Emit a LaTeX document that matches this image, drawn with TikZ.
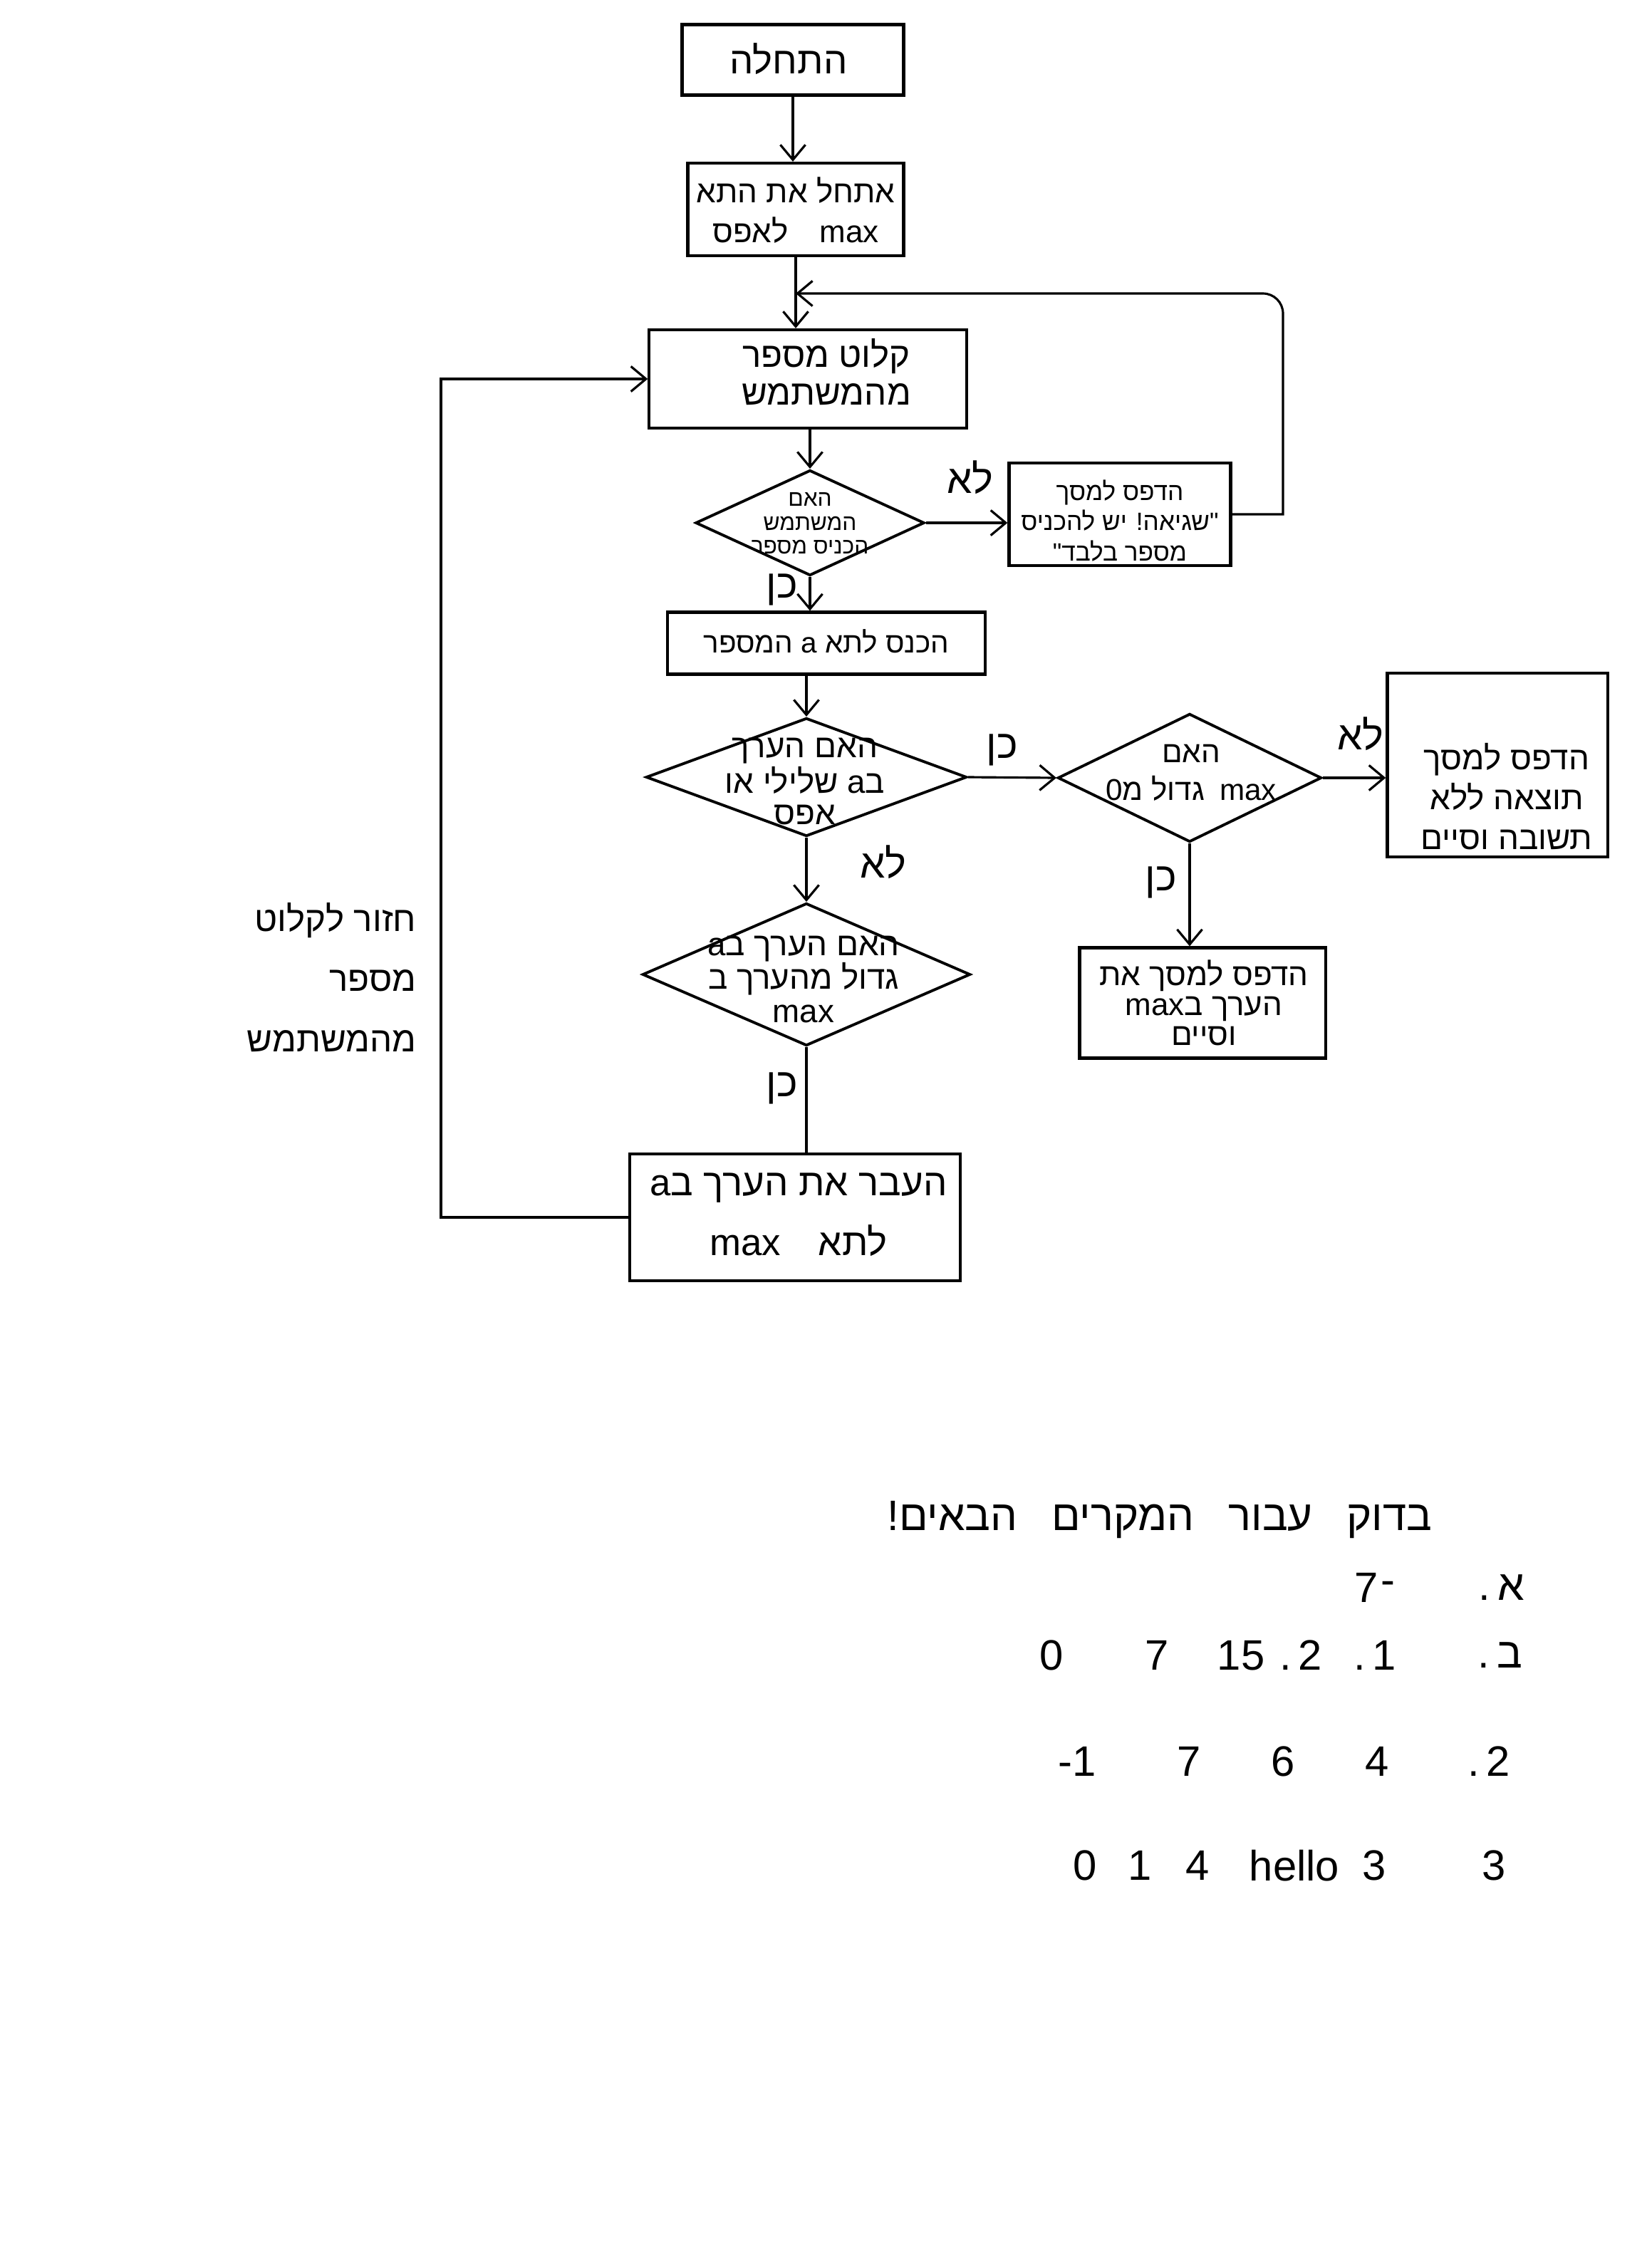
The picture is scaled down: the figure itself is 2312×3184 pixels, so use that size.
\documentclass[tikz,border=0pt]{standalone}
\usepackage{fontspec}
\setmainfont{Liberation Sans}
\newfontfamily\hebfont[Script=Hebrew]{Liberation Sans}
\TeXXeTstate=1
\usetikzlibrary{shapes.geometric,arrows.meta}
% right-to-left line, left-to-right run inside it, and a run splitter
\newcommand{\rtl}[1]{\beginR #1\endR}
\newcommand{\ltr}[1]{\beginL #1\endL{}}
\newcommand{\sep}{\kern0pt\relax}
\newcommand{\fs}[2]{\fontsize{#1}{#2}\selectfont}

\begin{document}
\begin{tikzpicture}[x=0.01cm,y=-0.01cm,
  box/.style={draw, line width=1.2pt, rectangle, inner sep=0pt},
  decision/.style={draw, line width=1.1pt, diamond, inner sep=0pt},
  txt/.style={align=center, inner sep=0pt},
  flow/.style={line width=0.9pt, -{Straight Barb[length=6pt,width=10pt,line width=0.9pt]}},
  link/.style={line width=0.9pt},
  answer/.style={font=\hebfont\fs{16}{18}, inner sep=0pt},
  testnum/.style={font=\fs{17}{19}, inner sep=0pt},
  testhead/.style={font=\hebfont\fs{17}{19}, inner sep=0pt}]

\fill[white] (0,0) rectangle (2312,3184);
\useasboundingbox (0,0) rectangle (2312,3184);

% ---- shapes ----
\node[box, minimum width=3.11cm, minimum height=0.99cm] (n1) at (1113,84) {};
\node[box, minimum width=3.03cm, minimum height=1.30cm] (n2) at (1117,294) {};
\node[box, minimum width=4.45cm, minimum height=1.38cm] (n3) at (1134,532) {};
\node[decision, minimum width=3.21cm, minimum height=1.48cm] (d1) at (1137,734) {};
\node[box, minimum width=3.11cm, minimum height=1.44cm] (err) at (1572,722) {};
\node[box, minimum width=4.45cm, minimum height=0.87cm] (n4) at (1160,903) {};
\node[decision, minimum width=4.50cm, minimum height=1.66cm] (d2) at (1132,1091) {};
\node[decision, minimum width=3.70cm, minimum height=1.80cm] (d3) at (1670,1092) {};
\node[box, minimum width=3.09cm, minimum height=2.58cm] (nores) at (2102,1074) {};
\node[box, minimum width=3.45cm, minimum height=1.55cm] (pmax) at (1688,1408) {};
\node[decision, minimum width=4.60cm, minimum height=2.00cm] (d4) at (1132,1368) {};
\node[box, minimum width=4.63cm, minimum height=1.78cm] (n5) at (1116,1709) {};

% ---- texts in the shapes ----
\node[txt, font=\hebfont\fs{15}{17}] (t1) at (1107,83) {\rtl{התחלה}};
\node[txt, font=\hebfont\fs{12.5}{16}] (t2) at (1117,295)
  {\rtl{אתחל את התא}\\\rtl{\ltr{max}\quad לאפס}};
\node[txt, font=\hebfont\fs{14}{15}] (t3) at (1160,522)
  {\rtl{קלוט מספר}\\\rtl{מהמשתמש}};
\node[txt, font=\hebfont\fs{9}{9.5}] (td1) at (1137,735)
  {\rtl{האם}\\\rtl{המשתמש}\\\rtl{הכניס מספר}};
\node[txt, font=\hebfont\fs{10}{12}] (terr) at (1572,731)
  {\rtl{הדפס למסך}\\\rtl{"\sep שגיאה\sep! יש להכניס}\\\rtl{מספר בלבד\sep"}};
\node[txt, font=\hebfont\fs{11.5}{14}] (t4) at (1160,900)
  {\rtl{הכנס לתא \ltr{a} המספר}};
\node[txt, font=\hebfont\fs{13}{12.5}] (td2) at (1130,1097)
  {\rtl{האם הערך}\\\rtl{ב\ltr{a} שלילי או}\\\rtl{אפס}};
\node[txt, font=\hebfont\fs{12}{15}] (td3) at (1672,1085)
  {\rtl{האם}\\\rtl{\ltr{max}\enspace גדול מ\sep0}};
\node[txt, font=\hebfont\fs{13}{16}] (tnores) at (2115,1118)
  {\rtl{הדפס למסך}\\\rtl{תוצאה ללא}\\\rtl{תשובה וסיים}};
\node[txt, font=\hebfont\fs{12.5}{12}] (tpmax) at (1690,1408)
  {\rtl{הדפס למסך את}\\\rtl{הערך ב\ltr{max}}\\\rtl{וסיים}};
\node[txt, font=\hebfont\fs{13}{13.5}] (td4) at (1128,1375)
  {\rtl{האם הערך ב\ltr{a}}\\\rtl{גדול מהערך ב}\\\ltr{max}};
\node[txt, font=\hebfont\fs{15}{24}] (t5) at (1121,1705)
  {\rtl{העבר את הערך ב\ltr{a}}\\\rtl{לתא\quad\ltr{max}}};

% ---- note beside the return line ----
\node[align=right, inner sep=0pt, anchor=east, font=\hebfont\fs{14}{24}] (back) at (585,1372)
  {\rtl{חזור לקלוט}\\\rtl{מספר}\\\rtl{מהמשתמש}};

% ---- connectors ----
\coordinate (looptop) at (1801,412);
\coordinate (loopjoin) at (1117,412);
\coordinate (backcol) at (619,0);

\draw[flow] (n1.south) -- (n1.south |- n2.north);
\draw[flow] (n2.south) -- (n2.south |- n3.north);
\draw[flow] (n3.south -| d1.north) -- (d1.north);
\draw[flow] (d1.south) -- (d1.south |- n4.north);
\draw[flow] (d1.east) -- (d1.east -| err.west);
\draw[flow] (err.east) -- (err.east -| looptop) [rounded corners=8pt] -- (looptop) -- (loopjoin);
\draw[flow] (n4.south -| d2.north) -- (d2.north);
\draw[flow] (d2.east) -- (d3.west);
\draw[flow] (d3.east) -- (d3.east -| nores.west);
\draw[flow] (d3.south) -- (d3.south |- pmax.north);
\draw[flow] (d2.south) -- (d4.north);
\draw[link] (d4.south) -- (d4.south |- n5.north);
\draw[flow] (n5.west) -| (backcol |- n3.west) -- (n3.west);

% ---- branch labels ----
\node[answer] (no1) at (1362,670) {\rtl{לא}};
\node[answer] (yes1) at (1098,828) {\rtl{כן}};
\node[answer] (yes2) at (1407,1053) {\rtl{כן}};
\node[answer] (no2) at (1910,1030) {\rtl{לא}};
\node[answer] (yes3) at (1630,1239) {\rtl{כן}};
\node[answer] (no3) at (1240,1210) {\rtl{לא}};
\node[answer] (yes4) at (1098,1528) {\rtl{כן}};

% ---- test cases ----
\node[testhead, font=\hebfont\fs{17}{20}] (head) at (1628,2134)
  {\rtl{בדוק\hspace{0.8em}עבור\hspace{0.8em}המקרים\hspace{0.8em}הבאים\sep!}};

\node[testhead] (ra) at (2108,2229) {.\,\hebfont א};
\node[testnum] (ra1) at (1918,2229) {7};
\node[testnum] (ra2) at (1948,2229) {-};

\node[testhead] (rb) at (2106,2324) {.\,\hebfont ב};
\node[testnum] (rb1) at (1476,2324) {0};
\node[testnum] (rb2) at (1624,2324) {7};
\node[testnum] (rb3) at (1742,2324) {15};
\node[testnum] (rb4) at (1826,2324) {.\,2};
\node[testnum] (rb5) at (1930,2324) {.\,1};

\node[testnum] (r2) at (2090,2473) {.\,2};
\node[testnum] (r21) at (1512,2473) {-1};
\node[testnum] (r22) at (1669,2473) {7};
\node[testnum] (r23) at (1801,2473) {6};
\node[testnum] (r24) at (1933,2473) {4};

\node[testnum] (r3) at (2097,2619) {3};
\node[testnum] (r31) at (1523,2619) {0};
\node[testnum] (r32) at (1600,2619) {1};
\node[testnum] (r33) at (1681,2619) {4};
\node[testnum] (r34) at (1817,2619) {hello};
\node[testnum] (r35) at (1929,2619) {3};
\end{tikzpicture}
\end{document}
